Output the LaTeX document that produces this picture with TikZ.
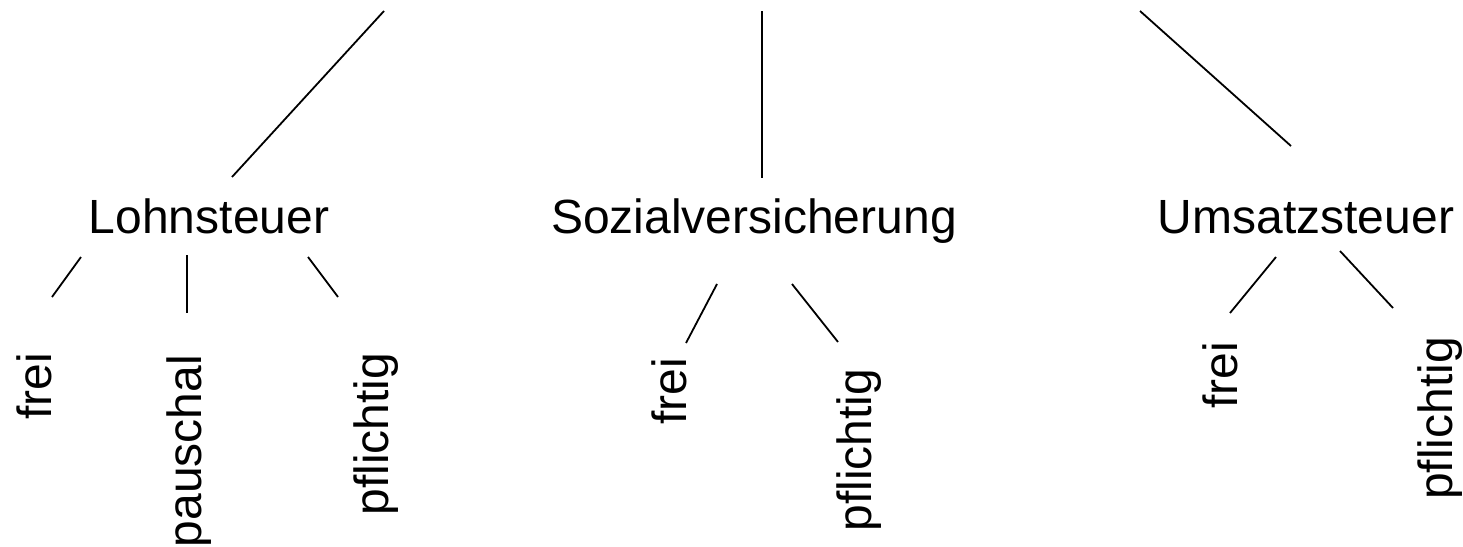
\documentclass[tikz,border=0pt]{standalone}
\usepackage{fontspec}
\setmainfont{Liberation Sans}
\begin{document}
\begin{tikzpicture}[x=1pt,y=-1pt,
  lab/.style={font=\fontsize{48}{58}\selectfont, inner sep=0pt},
  head/.style={lab, anchor=base},
  leaf/.style={lab, rotate=90, anchor=base},
  link/.style={line width=1.8pt, black}]
\useasboundingbox (0,0) rectangle (1463,546);

% category labels
\node[head] (L) at (209,233) {Lohnsteuer};
\node[head] (S) at (754,233) {Sozialversicherung};
\node[head] (U) at (1306,233) {Umsatzsteuer};

% leaves, set vertically
\node[leaf] (L1) at (51,386.5) {frei};
\node[leaf] (L2) at (201,451) {pauschal};
\node[leaf] (L3) at (388,434) {pflichtig};
\node[leaf] (S1) at (686,391) {frei};
\node[leaf] (S2) at (871,450) {pflichtig};
\node[leaf] (U1) at (1237,375.5) {frei};
\node[leaf] (U2) at (1452,418.5) {pflichtig};

% line ends
\coordinate (t1) at (384,11);   \coordinate (b1) at (232,177);
\coordinate (t2) at (762,11);   \coordinate (b2) at (762,178);
\coordinate (t3) at (1140,11);  \coordinate (b3) at (1291,146);

\coordinate (L1a) at (81,257);  \coordinate (L1b) at (52,297);
\coordinate (L2a) at (187,255); \coordinate (L2b) at (187,313);
\coordinate (L3a) at (308,257); \coordinate (L3b) at (338,297);

\coordinate (S1a) at (717,284); \coordinate (S1b) at (686,343);
\coordinate (S2a) at (792,284); \coordinate (S2b) at (838,342);

\coordinate (U1a) at (1276,257); \coordinate (U1b) at (1230,313);
\coordinate (U2a) at (1340,251); \coordinate (U2b) at (1393,308);

% branches from the top
\draw[link] (t1) -- (b1);
\draw[link] (t2) -- (b2);
\draw[link] (t3) -- (b3);

% branches to the leaves
\draw[link] (L1a) -- (L1b);
\draw[link] (L2a) -- (L2b);
\draw[link] (L3a) -- (L3b);
\draw[link] (S1a) -- (S1b);
\draw[link] (S2a) -- (S2b);
\draw[link] (U1a) -- (U1b);
\draw[link] (U2a) -- (U2b);
\end{tikzpicture}
\end{document}
